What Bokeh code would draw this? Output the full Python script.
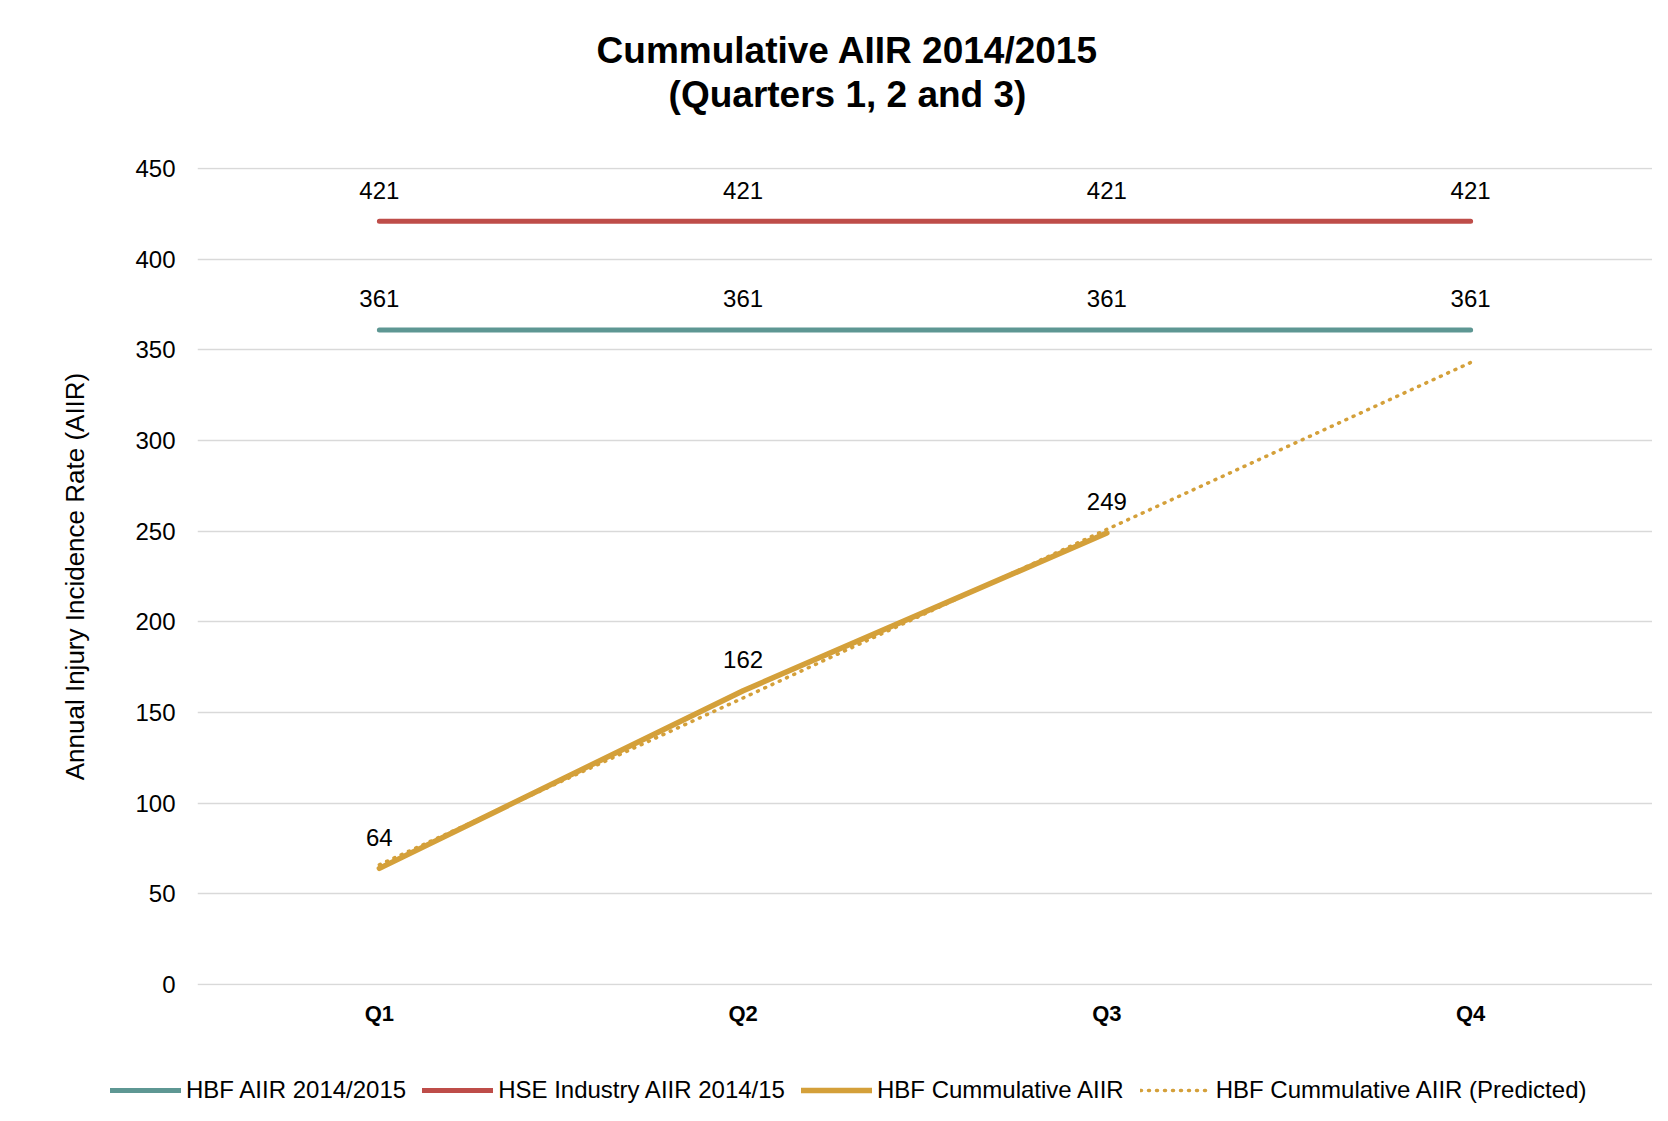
from bokeh.plotting import figure
from bokeh.layouts import column
from bokeh.models import ColumnDataSource, LabelSet, Label, Legend, LegendItem, FactorRange, Range1d
from bokeh.core.properties import value
from bokeh.embed import file_html
from bokeh.resources import INLINE

quarters = ["Q1", "Q2", "Q3", "Q4"]
hbf_aiir = [361, 361, 361, 361]
hse_aiir = [421, 421, 421, 421]
cum_quarters = ["Q1", "Q2", "Q3"]
hbf_cumulative = [64, 162, 249]
hbf_predicted = [66, 158, 251, 343]
title_lines = ["Cummulative AIIR 2014/2015", "(Quarters 1, 2 and 3)"]
series_names = ["HBF AIIR 2014/2015", "HSE Industry AIIR 2014/15",
                "HBF Cummulative AIIR", "HBF Cummulative AIIR (Predicted)"]

TEAL = "#5E9793"
RED = "#BE4D49"
GOLD = "#D4A03A"
FONT = "Liberation Sans"
W = 1652

src_teal = ColumnDataSource(dict(x=quarters, y=hbf_aiir, t=[str(v) for v in hbf_aiir]))
src_red = ColumnDataSource(dict(x=quarters, y=hse_aiir, t=[str(v) for v in hse_aiir]))
src_cum = ColumnDataSource(dict(x=cum_quarters, y=hbf_cumulative, t=[str(v) for v in hbf_cumulative]))
src_pred = ColumnDataSource(dict(x=quarters, y=hbf_predicted))

styles = [
    dict(line_color=TEAL, line_width=5, line_cap="round"),
    dict(line_color=RED, line_width=5, line_cap="round"),
    dict(line_color=GOLD, line_width=5.5, line_cap="round", line_join="round"),
    dict(line_color=GOLD, line_width=3.5, line_dash="1 7", line_cap="round"),
]
sources = [src_teal, src_red, src_cum, src_pred]

# ---- title block ----
tf = figure(width=W, height=150, output_backend="svg", toolbar_location=None,
            x_range=Range1d(0, W), y_range=Range1d(0, 150),
            x_axis_location=None, y_axis_location=None, min_border=0, frame_align=False)
tf.outline_line_color = None
tf.grid.visible = False
for txt, yy in zip(title_lines, (100, 56)):
    tf.add_layout(Label(x=847, y=yy, text=txt, text_align="center", text_baseline="middle",
                        text_font=FONT, text_font_size="37px", text_font_style="bold",
                        text_color="black"))

# ---- main chart ----
p = figure(width=W, height=890, output_backend="svg", toolbar_location=None,
           x_range=FactorRange(*quarters), y_range=Range1d(-0.6, 450.6),
           min_border_left=197, min_border_right=0, min_border_top=17, min_border_bottom=55,
           frame_align=False)
p.outline_line_color = None

p.line("x", "y", source=src_teal, **styles[0])
p.line("x", "y", source=src_red, **styles[1])
p.line("x", "y", source=src_pred, **styles[3])
p.line("x", "y", source=src_cum, **styles[2])

for s in (src_teal, src_red, src_cum):
    p.add_layout(LabelSet(x="x", y="y", text="t", source=s, y_offset=31, text_align="center",
                          text_baseline="middle", text_font=value(FONT), text_font_size=value("24px"),
                          text_color=value("black")))

p.yaxis.ticker = [0, 50, 100, 150, 200, 250, 300, 350, 400, 450]
p.yaxis.axis_line_color = None
p.yaxis.major_tick_line_color = None
p.yaxis.minor_tick_line_color = None
p.yaxis.major_label_text_font = FONT
p.yaxis.major_label_text_font_size = "24px"
p.yaxis.major_label_text_color = "black"
p.yaxis.major_label_standoff = 16
p.yaxis.axis_label = "Annual Injury Incidence Rate (AIIR)"
p.yaxis.axis_label_text_font = FONT
p.yaxis.axis_label_text_font_size = "26px"
p.yaxis.axis_label_text_font_style = "normal"
p.yaxis.axis_label_text_color = "black"
p.yaxis.axis_label_standoff = 42

p.xaxis.axis_line_color = None
p.xaxis.major_tick_line_color = None
p.xaxis.minor_tick_line_color = None
p.xaxis.major_label_text_font = FONT
p.xaxis.major_label_text_font_size = "22px"
p.xaxis.major_label_text_font_style = "bold"
p.xaxis.major_label_text_color = "black"
p.xaxis.major_label_standoff = 9

p.xgrid.grid_line_color = None
p.ygrid.grid_line_color = "#D9D9D9"
p.ygrid.grid_line_width = 1.5

# ---- legend block (series drawn out of view; only the legend shows) ----
lf = figure(width=W, height=65, output_backend="svg", toolbar_location=None,
            x_range=FactorRange(*quarters), y_range=Range1d(1000, 1065),
            x_axis_location=None, y_axis_location=None, min_border=0, frame_align=False)
lf.outline_line_color = None
lf.grid.visible = False
items = []
for name, st, s in zip(series_names, styles, sources):
    r = lf.line("x", "y", source=s, **st)
    items.append(LegendItem(label=name, renderers=[r]))
legend = Legend(items=items, orientation="horizontal", location=(110, 1),
                border_line_color=None, background_fill_alpha=0,
                label_text_font=FONT, label_text_font_size="24px", label_text_color="black",
                glyph_width=71, glyph_height=20, label_standoff=5, spacing=16, padding=0, margin=0)
lf.add_layout(legend, "center")

layout = column(tf, p, lf, spacing=0)
open("out.html", "w").write(file_html(layout, INLINE))
